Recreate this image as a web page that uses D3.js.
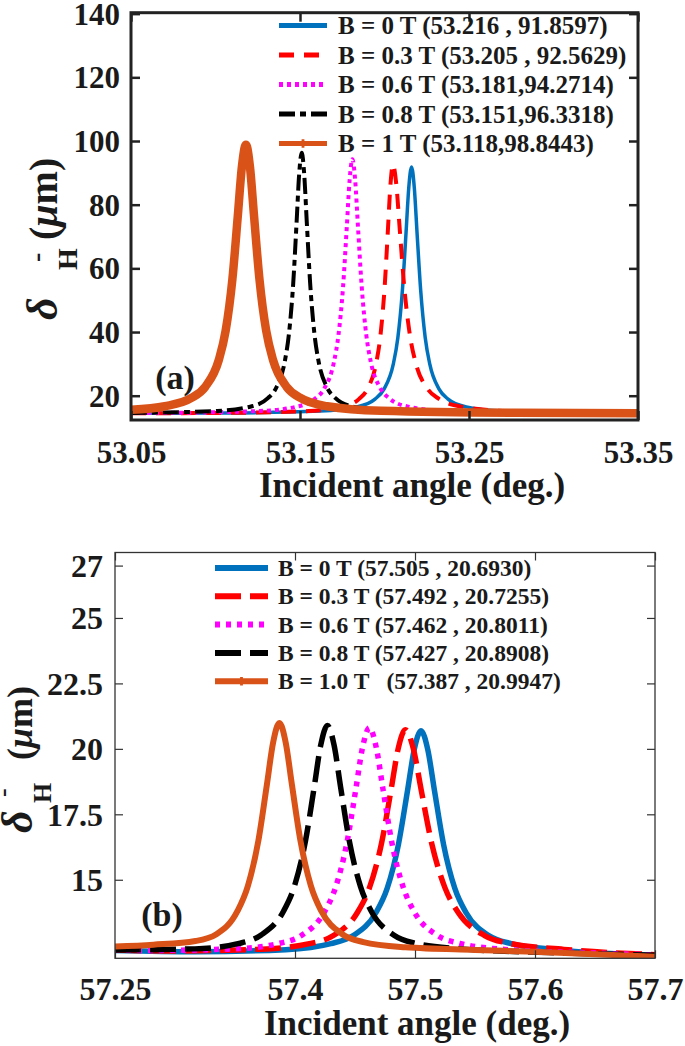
<!DOCTYPE html>
<html><head><meta charset="utf-8">
<script src="https://cdn.jsdelivr.net/npm/d3@7"></script>
<style>
html,body{margin:0;padding:0;background:#fff;}
svg{display:block;}
</style></head><body>
<div id="chart"></div>
<script>
// ---------------- Panel (a) data ----------------
const aXTicks = [53.05, 53.15, 53.25, 53.35];
const aYTicks = [20, 40, 60, 80, 100, 120, 140];
const aLegend = ["B = 0 T (53.216 , 91.8597)", "B = 0.3 T (53.205 , 92.5629)", "B = 0.6 T (53.181,94.2714)", "B = 0.8 T (53.151,96.3318)", "B = 1 T (53.118,98.8443)"];

const aB0x = [53.05, 53.108, 53.162, 53.1836, 53.1944, 53.1998, 53.2052, 53.2079, 53.2106, 53.21276, 53.21438, 53.216, 53.21762, 53.21924, 53.2214, 53.2241, 53.2268, 53.2322, 53.2376, 53.2484, 53.27, 53.324, 53.35];
const aB0y = [14.47, 14.59, 15.17, 16.49, 18.95, 22.15, 29.89, 38.23, 53.13, 71.33, 85.43, 91.86, 85.43, 71.33, 53.13, 38.23, 29.89, 22.15, 18.95, 16.49, 15.17, 14.59, 14.55];

const aB3x = [53.05, 53.105, 53.155, 53.175, 53.185, 53.19, 53.195, 53.1975, 53.2, 53.202, 53.2035, 53.205, 53.20704, 53.20908, 53.2118, 53.2152, 53.2186, 53.2254, 53.2322, 53.2458, 53.273, 53.35];
const aB3y = [14.49, 14.60, 15.17, 16.51, 19.00, 22.22, 30.03, 38.45, 53.48, 71.85, 86.07, 92.56, 86.07, 71.85, 53.48, 38.45, 30.03, 22.22, 19.00, 16.51, 15.17, 14.58];

const aB6x = [53.05, 53.071, 53.126, 53.148, 53.159, 53.1645, 53.17, 53.17275, 53.1755, 53.1777, 53.17935, 53.181, 53.18265, 53.1843, 53.1865, 53.18925, 53.192, 53.1975, 53.203, 53.214, 53.236, 53.291, 53.35];
const aB6y = [14.54, 14.60, 15.19, 16.56, 19.10, 22.39, 30.37, 38.98, 54.34, 73.10, 87.64, 94.27, 87.64, 73.10, 54.34, 38.98, 30.37, 22.39, 19.10, 16.56, 15.19, 14.60, 14.48];

const aB8x = [53.05, 53.101, 53.121, 53.131, 53.136, 53.141, 53.1435, 53.146, 53.148, 53.1495, 53.151, 53.1525, 53.154, 53.156, 53.1585, 53.161, 53.166, 53.171, 53.181, 53.201, 53.251, 53.35];
const aB8y = [14.60, 15.21, 16.61, 19.22, 22.59, 30.79, 39.61, 55.37, 74.62, 89.53, 96.33, 89.53, 74.62, 55.37, 39.61, 30.79, 22.59, 19.22, 16.61, 15.21, 14.60, 14.45];

const aB10x = [53.05, 53.07, 53.086, 53.094, 53.102, 53.106, 53.11, 53.1132, 53.1156, 53.118, 53.1204, 53.1228, 53.126, 53.13, 53.134, 53.142, 53.15, 53.166, 53.198, 53.278, 53.35];
const aB10y = [15.56, 16.68, 19.37, 22.84, 31.29, 40.38, 56.62, 76.46, 91.83, 98.84, 91.83, 76.46, 56.62, 40.38, 31.29, 22.84, 19.37, 16.68, 15.24, 14.61, 14.50];

// ---------------- Panel (b) data ----------------
const bXTicks = [57.25, 57.4, 57.5, 57.6, 57.7];
const bYTicks = [15, 17.5, 20, 22.5, 25, 27];
const bLegend = ["B = 0 T (57.505 , 20.6930)", "B = 0.3 T (57.492 , 20.7255)", "B = 0.6 T (57.462 , 20.8011)", "B = 0.8 T (57.427 , 20.8908)", "B = 1.0 T   (57.387 , 20.9947)"];

const bB0x = [57.25, 57.317, 57.3922, 57.4298, 57.4486, 57.4674, 57.4768, 57.4862, 57.49372, 57.49936, 57.505, 57.51064, 57.51628, 57.5238, 57.5332, 57.5426, 57.5614, 57.5802, 57.6178, 57.7];
const bB0y = [12.30, 12.25, 12.33, 12.56, 12.87, 13.74, 14.67, 16.35, 18.39, 19.97, 20.69, 19.97, 18.39, 16.35, 14.67, 13.74, 12.87, 12.56, 12.33, 12.12];

const bB3x = [57.25, 57.292, 57.372, 57.412, 57.432, 57.452, 57.462, 57.472, 57.48, 57.486, 57.492, 57.4986, 57.5052, 57.514, 57.525, 57.536, 57.558, 57.58, 57.624, 57.7];
const bB3y = [12.32, 12.28, 12.35, 12.56, 12.87, 13.75, 14.69, 16.37, 18.42, 20.01, 20.73, 20.01, 18.42, 16.37, 14.69, 13.75, 12.87, 12.56, 12.34, 12.14];

const bB6x = [57.25, 57.274, 57.3492, 57.3868, 57.4056, 57.4244, 57.4338, 57.4432, 57.45072, 57.45636, 57.462, 57.46764, 57.47328, 57.4808, 57.4902, 57.4996, 57.5184, 57.5372, 57.5748, 57.65, 57.7];
const bB6y = [12.34, 12.30, 12.36, 12.57, 12.88, 13.76, 14.71, 16.40, 18.47, 20.07, 20.80, 20.07, 18.47, 16.40, 14.71, 13.76, 12.88, 12.57, 12.34, 12.20, 12.13];

const bB8x = [57.25, 57.3166, 57.3534, 57.3718, 57.3902, 57.3994, 57.4086, 57.41596, 57.42148, 57.427, 57.43252, 57.43804, 57.4454, 57.4546, 57.4638, 57.4822, 57.5006, 57.5374, 57.611, 57.7];
const bB8y = [12.32, 12.36, 12.57, 12.89, 13.78, 14.74, 16.45, 18.53, 20.15, 20.89, 20.15, 18.53, 16.45, 14.74, 13.78, 12.89, 12.57, 12.36, 12.22, 12.12];

const bB10x = [57.25, 57.282, 57.317, 57.3345, 57.352, 57.36075, 57.3695, 57.3765, 57.38175, 57.387, 57.39225, 57.3975, 57.4045, 57.41325, 57.422, 57.4395, 57.457, 57.492, 57.55, 57.6, 57.7];
const bB10y = [12.45, 12.52, 12.66, 12.92, 13.80, 14.77, 16.50, 18.61, 20.24, 20.99, 20.24, 18.61, 16.50, 14.77, 13.80, 12.92, 12.62, 12.42, 12.32, 12.25, 12.06];

// ---------------- drawing ----------------
const W = 685, H = 1046;
const FONT = "'Liberation Serif', 'Times New Roman', Tinos, 'DejaVu Serif', serif";
const svg = d3.select("#chart").append("svg").attr("width", W).attr("height", H)
  .attr("font-family", FONT).attr("font-weight", "bold");
const zip = (xs, ys) => xs.map((v, i) => [v, ys[i]]);
const colors = ["#0072BD", "#FF0000", "#FF00FF", "#000000", "#D95319"];

function txt(sel) {
  return sel.attr("font-family", FONT).attr("font-weight", "bold").attr("fill", "#1a1a1a")
    .style("white-space", "pre");
}

function drawPanel(p) {
  const x = d3.scaleLinear().domain(p.xDomain).range([p.left, p.right]);
  const y = d3.scaleLinear().domain(p.yDomain).range([p.bottom, p.top]);
  const g = svg.append("g");
  const clipId = "clip" + p.id;
  g.append("clipPath").attr("id", clipId).append("rect")
    .attr("x", p.left).attr("y", p.top).attr("width", p.right - p.left).attr("height", p.bottom - p.top);

  const line = d3.line().x(d => x(d[0])).y(d => y(d[1])).curve(d3.curveMonotoneX);
  const lg = g.append("g").attr("clip-path", `url(#${clipId})`);
  p.series.forEach((s, i) => {
    const st = p.styles[i];
    lg.append("path").attr("d", line(s)).attr("fill", "none")
      .attr("stroke", colors[i]).attr("stroke-width", st.w)
      .attr("stroke-dasharray", st.dash || null)
      .attr("stroke-linejoin", "round");
  });

  const tl = p.tickLen;
  const axB = g.append("g").attr("transform", `translate(0,${p.bottom})`)
    .call(d3.axisBottom(x).tickValues(p.xTicks).tickFormat(d => p.xFmt(d)).tickSize(-tl));
  const axT = g.append("g").attr("transform", `translate(0,${p.top})`)
    .call(d3.axisTop(x).tickValues(p.xTicks).tickFormat("").tickSize(-tl));
  const axL = g.append("g").attr("transform", `translate(${p.left},0)`)
    .call(d3.axisLeft(y).tickValues(p.yTicks).tickFormat(d => p.yFmt(d)).tickSize(-tl));
  const axR = g.append("g").attr("transform", `translate(${p.right},0)`)
    .call(d3.axisRight(y).tickValues(p.yTicks).tickFormat("").tickSize(-tl));
  [axB, axT, axL, axR].forEach(a => {
    a.select(".domain").remove();
    a.selectAll(".tick line").attr("stroke", p.boxColor).attr("stroke-width", p.tickW);
    a.attr("font-family", FONT).attr("font-size", null);
  });
  txt(axB.selectAll("text")).attr("y", p.xLabelDy).attr("dy", null)
    .style("font-size", p.tickFont + "px");
  txt(axL.selectAll("text")).attr("x", -p.yLabelGap).attr("dy", "0.34em")
    .style("font-size", p.tickFont + "px");

  g.append("rect").attr("x", p.left).attr("y", p.top)
    .attr("width", p.right - p.left).attr("height", p.bottom - p.top)
    .attr("fill", "none").attr("stroke", p.boxColor).attr("stroke-width", p.boxW);

  txt(g.append("text")).attr("x", p.titleX).attr("y", p.titleY).attr("text-anchor", "middle")
    .style("font-size", "35px").text("Incident angle (deg.)");

  txt(g.append("text")).attr("x", p.tagX).attr("y", p.tagY).attr("text-anchor", "middle")
    .style("font-size", "34px").text(p.tag);

  p.legend.forEach((t, i) => {
    const yy = p.legY0 + i * p.legDy;
    const st = p.styles[i];
    g.append("line").attr("x1", p.legX1).attr("x2", p.legX2).attr("y1", yy).attr("y2", yy)
      .attr("stroke", colors[i]).attr("stroke-width", p.legW)
      .attr("stroke-dasharray", st.legDash || st.dash || null);
    if (i === 4) {
      g.append("path").attr("d", d3.symbol(d3.symbolCross, p.legMark)())
        .attr("transform", `translate(${(p.legX1 + p.legX2) / 2},${yy})`).attr("fill", colors[i]);
    }
    txt(g.append("text")).attr("x", p.legTX).attr("y", yy).attr("dy", "0.34em")
      .style("font-size", p.legFont + "px").text(t);
  });

  const yl = g.append("g").attr("transform", `translate(${p.ylBase},0) rotate(-90)`);
  const L = p.yl;
  txt(yl.append("text")).attr("x", -L.dStart).attr("y", 0).style("font-size", L.dFs + "px")
    .style("font-style", "italic").text("δ");
  txt(yl.append("text")).attr("x", -L.hStart).attr("y", L.hV).style("font-size", L.hFs + "px").text("H");
  txt(yl.append("text")).attr("x", -L.mStart).attr("y", L.mV).style("font-size", L.hFs + "px").text("-");
  const t = txt(yl.append("text")).attr("x", -L.pStart).attr("y", 0).style("font-size", L.pFs + "px");
  t.append("tspan").text("(");
  t.append("tspan").style("font-style", "italic").text("μ");
  t.append("tspan").text("m)");
}

drawPanel({
  id: "a", left: 131, right: 638, top: 12.7, bottom: 420,
  xDomain: [53.05, 53.35], yDomain: [12.37, 140.3],
  xTicks: aXTicks, yTicks: aYTicks,
  xFmt: d => d3.format(".2f")(d), yFmt: d => String(d),
  series: [zip(aB0x, aB0y), zip(aB3x, aB3y), zip(aB6x, aB6y), zip(aB8x, aB8y), zip(aB10x, aB10y)],
  styles: [{w: 3.5}, {w: 4, dash: "15,10"}, {w: 4, dash: "4,4"}, {w: 4, dash: "16,5,6,5"}, {w: 8.5}],
  tickLen: 9, tickW: 2.5, boxW: 3, boxColor: "#222",
  tickFont: 31, xLabelDy: 43, yLabelGap: 11,
  titleX: 412, titleY: 497, tagX: 175, tagY: 389, tag: "(a)",
  legend: aLegend, legY0: 25.5, legDy: 29.5, legX1: 279, legX2: 327, legTX: 338, legFont: 25, legW: 5, legMark: 40,
  ylBase: 57,
  yl: {dStart: 320, dFs: 44, hStart: 270, hV: 20, hFs: 28, mStart: 262, mV: -12, pStart: 240, pFs: 40}
});

drawPanel({
  id: "b", left: 115, right: 655, top: 552.5, bottom: 958.3,
  xDomain: [57.25, 57.7], yDomain: [12, 27.5],
  xTicks: bXTicks, yTicks: bYTicks,
  xFmt: d => String(d), yFmt: d => String(d),
  series: [zip(bB0x, bB0y), zip(bB3x, bB3y), zip(bB6x, bB6y), zip(bB8x, bB8y), zip(bB10x, bB10y)],
  styles: [{w: 5.5}, {w: 5.5, dash: "26,9"}, {w: 5.5, dash: "5,6"}, {w: 5.5, dash: "26,9"}, {w: 6}],
  tickLen: 8, tickW: 1.2, boxW: 1.3, boxColor: "#333",
  tickFont: 32, xLabelDy: 42, yLabelGap: 12,
  titleX: 417, titleY: 1035, tagX: 162, tagY: 926, tag: "(b)",
  legend: bLegend, legY0: 568, legDy: 28.3, legX1: 215, legX2: 268, legTX: 278, legFont: 23.5, legW: 6, legMark: 40,
  ylBase: 32,
  yl: {dStart: 833, dFs: 44, hStart: 803, hV: 19, hFs: 26, mStart: 797, mV: -21, pStart: 760, pFs: 36}
});
</script>
</body></html>
